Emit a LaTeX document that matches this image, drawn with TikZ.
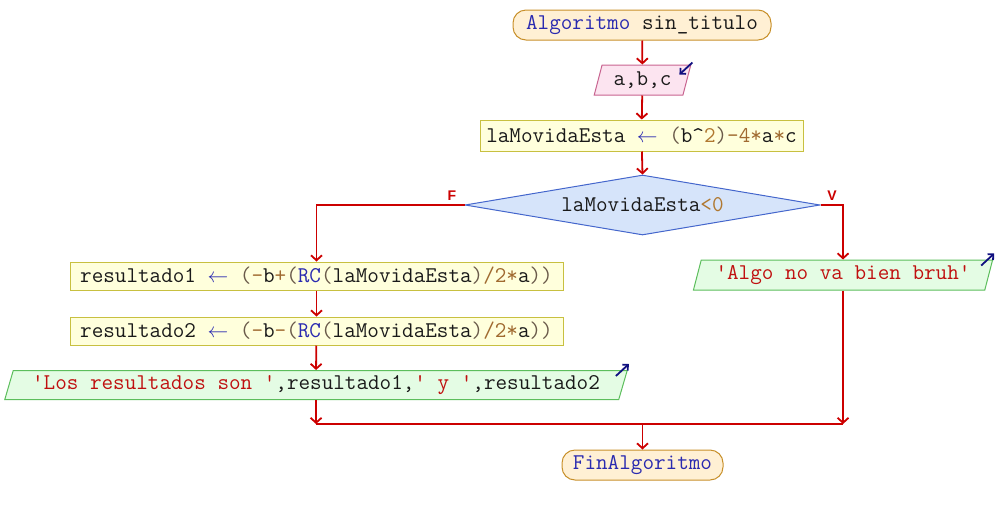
\documentclass[tikz,border=0pt]{standalone}
\usepackage{fontspec}
\newfontfamily\labfont{Liberation Sans}
\usetikzlibrary{shapes.geometric,shapes.misc,arrows.meta,calc}
\definecolor{edgec}{HTML}{CC0000}
\definecolor{txt}{HTML}{1A1A1A}
\definecolor{kw}{HTML}{2A2AB0}
\definecolor{strc}{HTML}{C01010}
\definecolor{num}{HTML}{B07830}
\definecolor{opc}{HTML}{A06A30}
\definecolor{par}{HTML}{6A5A4A}
\definecolor{termf}{HTML}{FFF0D4}
\definecolor{termd}{HTML}{C8902A}
\definecolor{inf}{HTML}{FCE4F0}
\definecolor{ind}{HTML}{C86490}
\definecolor{asf}{HTML}{FFFFDC}
\definecolor{asd}{HTML}{C8C040}
\definecolor{dif}{HTML}{D6E4FA}
\definecolor{did}{HTML}{4466CC}
\definecolor{outf}{HTML}{E4FCE4}
\definecolor{outd}{HTML}{5CBE5C}
\definecolor{iconc}{HTML}{101080}
\newcommand{\asgarrow}{{\color{kw}\fontsize{21}{22}\selectfont$\leftarrow$}}
\begin{document}
\begin{tikzpicture}[x=1pt,y=-1pt,
  every node/.style={font=\ttfamily\fontsize{22.5}{26}\selectfont, text=txt, inner sep=0pt},
  term/.style={rectangle, rounded corners=13pt, draw=termd, fill=termf, line width=1pt, minimum height=30pt},
  inbox/.style={trapezium, trapezium stretches=true, draw=ind, fill=inf, line width=1pt},
  outbox/.style={trapezium, trapezium stretches=true, draw=outd, fill=outf, line width=1pt},
  asgbox/.style={rectangle, draw=asd, fill=asf, line width=1pt, minimum width=493pt, minimum height=28pt},
  decision/.style={diamond, draw=did, fill=dif, line width=1pt, minimum width=355pt, minimum height=60pt, aspect=5.9},
  edgeline/.style={draw=edgec, line width=1.8pt},
  flow/.style={edgeline, -{Straight Barb[length=5pt,width=11pt]}},
  icon/.style={draw=iconc, line width=1.8pt, -{Straight Barb[length=4pt,width=8pt]}},
  lab/.style={font=\labfont\bfseries\fontsize{14}{16}\selectfont, text=edgec}
]
\useasboundingbox (0,0) rectangle (996,515);

\node[term, minimum width=258pt] (start) at (642,25) {{\color{kw}Algoritmo} sin\_titulo};
\node[inbox, trapezium left angle=71.6, trapezium right angle=108.4, minimum width=97pt, minimum height=30pt] (inp) at (642.5,80) {a,b,c};
\node[asgbox, minimum width=323pt, minimum height=31pt] (asg) at (641.5,135.5)
  {laMovidaEsta \asgarrow{} {\color{par}(}b\textasciicircum{\color{num}2}{\color{par})}{\color{opc}-4*}a{\color{opc}*}c};
\node[decision] (dia) at (642.5,205) {laMovidaEsta{\color{num}<0}};
\node[asgbox] (r1) at (316.5,276)
  {resultado1 \asgarrow{} {\color{par}(}{\color{opc}-}b{\color{opc}+}{\color{par}(}{\color{kw}RC}{\color{par}(}laMovidaEsta{\color{par})}{\color{opc}/2*}a{\color{par})}{\color{par})}};
\node[asgbox] (r2) at (316.5,331)
  {resultado2 \asgarrow{} {\color{par}(}{\color{opc}-}b{\color{opc}-}{\color{par}(}{\color{kw}RC}{\color{par}(}laMovidaEsta{\color{par})}{\color{opc}/2*}a{\color{par})}{\color{par})}};
\node[outbox, trapezium left angle=67.5, trapezium right angle=112.5, minimum width=624pt, minimum height=29pt] (out1) at (316,385)
  {{\color{strc}'Los resultados son '},resultado1,{\color{strc}' y '},resultado2};
\node[outbox, trapezium left angle=70, trapezium right angle=110, minimum width=300pt, minimum height=30pt] (out2) at (843,275)
  {{\color{strc}'Algo no va bien bruh'}};
\node[term, minimum width=161pt] (fin) at (642.5,465) {{\color{kw}FinAlgoritmo}};

\node[lab] (lf) at (452,196) {F};
\node[lab] (lv) at (832,196) {V};

\draw[flow] (start) -- (inp);
\draw[flow] (inp) -- (asg);
\draw[flow] (asg) -- (dia.north);
\draw[flow] (dia.west) -| (r1.north);
\draw[flow] (dia.east) -| (out2.north);
\draw[flow] (r1) -- (r2);
\draw[flow] (r2) -- (out1.north);
\coordinate (mL) at (out1.south |- 0,424);
\coordinate (mR) at (out2.south |- 0,424);
\coordinate (mC) at (fin.north |- 0,424);
\draw[flow] (out1.south) -- (mL);
\draw[flow] (out2.south) -- (mR);
\draw[edgeline] (mL) -- (mR);
\draw[flow] (mC) -- (fin.north);

\draw[icon] ([shift={(1,-2)}]inp.top right corner) -- ++(-13,12);
\draw[icon] ([shift={(-12,6)}]out1.top right corner) -- ++(13,-12);
\draw[icon] ([shift={(-12,6)}]out2.top right corner) -- ++(13,-12);
\end{tikzpicture}
\end{document}
